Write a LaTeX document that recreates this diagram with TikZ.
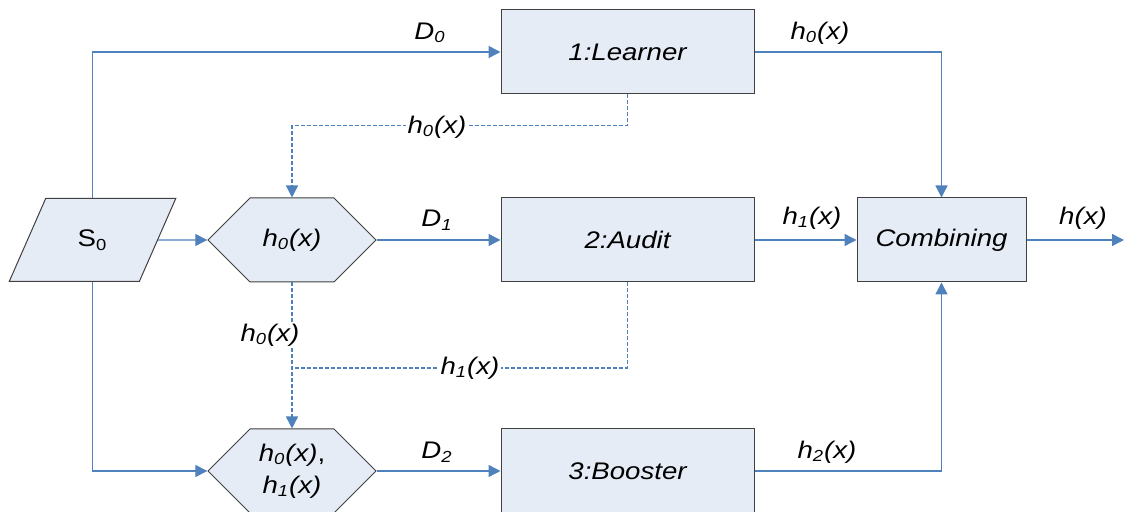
\documentclass[tikz,border=0pt]{standalone}
\usepackage{fontspec}
\setmainfont{Liberation Sans}[FakeStretch=1.15]
\usetikzlibrary{shapes.geometric,shapes.symbols,arrows.meta}
\definecolor{boxfill}{RGB}{230,236,246}
\definecolor{wireblue}{RGB}{79,129,189}
\newcommand{\hx}[1]{\textit{h\textsubscript{#1}(x)}}
\begin{document}
\begin{tikzpicture}[x=0.5pt,y=-0.5pt,
    font=\fontsize{12}{16}\selectfont,
    box/.style={draw=black!75,fill=boxfill,line width=0.5pt,
      minimum width=126.5pt,minimum height=42pt,font=\fontsize{12}{16}\selectfont\itshape},
    hexa/.style={signal,signal to=west and east,signal pointer angle=90,
      draw=black!75,fill=boxfill,line width=0.5pt,minimum width=84pt,
      minimum height=42pt,inner sep=1pt,align=center},
    para/.style={trapezium,trapezium left angle=63.7,trapezium right angle=116.3,
      trapezium stretches=true,draw=black!75,fill=boxfill,line width=0.5pt,
      minimum width=83.5pt,minimum height=41.5pt},
    flow/.style={draw=wireblue,line width=0.7pt,-{Triangle[length=6pt,width=6pt]}},
    dline/.style={draw=wireblue,line width=0.7pt,dash pattern=on 2pt off 1pt},
    dflow/.style={dline,-{Triangle[length=6pt,width=6pt]}},
    lbl/.style={inner sep=1pt},
    dlbl/.style={lbl,fill=white}]
  \useasboundingbox (0,0) rectangle (1124,512);
  \node[para] (s0) at (92.5,240) {S\textsubscript{0}};
  \node[hexa] (hex1) at (292,240) {\hx{0}};
  \node[hexa] (hex2) at (292,471) {\hx{0},\\\hx{1}};
  \node[box] (learner) at (627.5,52) {1:Learner};
  \node[box] (audit) at (627.5,240) {2:Audit};
  \node[box] (booster) at (627.5,471) {3:Booster};
  \node[box,minimum width=84.5pt] (comb) at (941.5,240) {Combining};
  \coordinate (out) at (1124,240);
  \coordinate (j1) at (292,368);
  \begin{scope}
    \draw[flow] (s0.center |- s0.north) |- (learner.west);
    \draw[flow] (s0.east) -- (hex1.west);
    \draw[flow] (s0.center |- s0.south) |- (hex2.west);
    \draw[flow] (hex1.east) -- (audit.west);
    \draw[flow] (hex2.east) -- (booster.west);
    \draw[flow] (learner.east) -| (comb.north);
    \draw[flow] (audit.east) -- (comb.west);
    \draw[flow] (booster.east) -| (comb.south);
    \draw[flow] (comb.east) -- (out);
    \draw[dflow] (learner.south) -- ++(0,31) -| (hex1.north);
    \draw[dflow] (hex1.south) -- (hex2.north);
    \draw[dline] (audit.south) |- (j1);
  \end{scope}
  \node[lbl] (ld0) at (430,33) {\textit{D\textsubscript{0}}};
  \node[lbl] (ld1) at (437,220) {\textit{D\textsubscript{1}}};
  \node[lbl] (ld2) at (437,452) {\textit{D\textsubscript{2}}};
  \node[lbl] (lh0) at (820,33) {\hx{0}};
  \node[lbl] (lh1) at (812,218) {\hx{1}};
  \node[lbl] (lh2) at (827,452) {\hx{2}};
  \node[lbl] (lh) at (1083,218) {\textit{h(x)}};
  \node[dlbl] (dh0) at (437,127) {\hx{0}};
  \node[dlbl] (dh0b) at (270,335) {\hx{0}};
  \node[dlbl] (dh1) at (470,368) {\hx{1}};
\end{tikzpicture}
\end{document}
